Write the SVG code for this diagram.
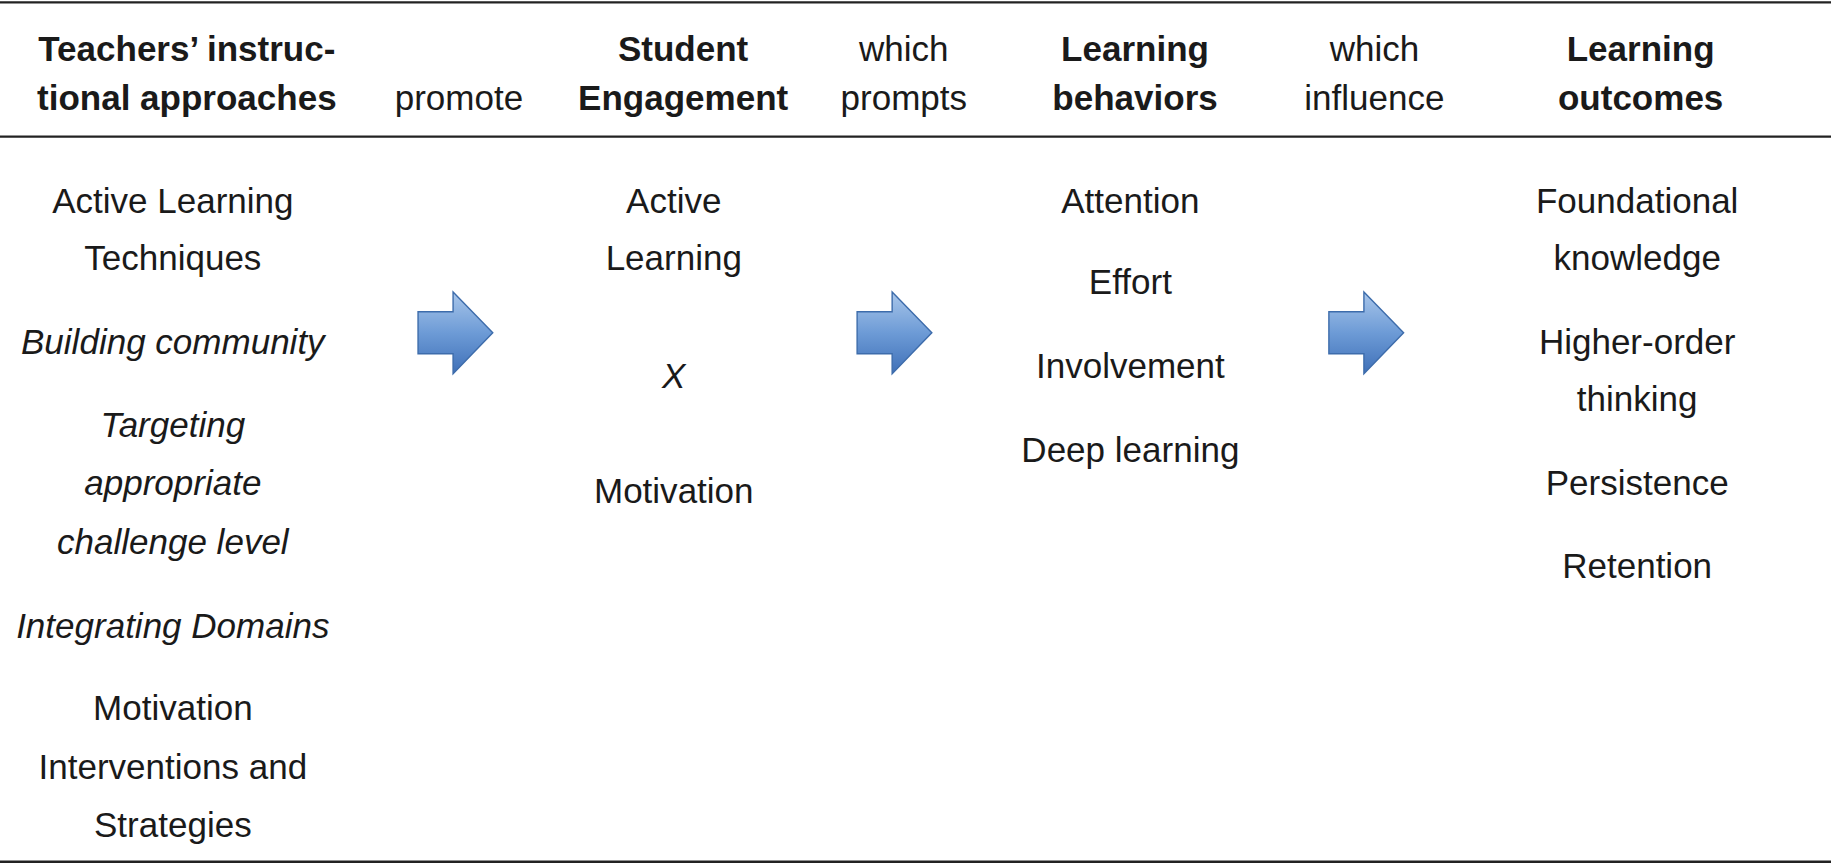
<svg xmlns="http://www.w3.org/2000/svg" width="1831" height="865" viewBox="0 0 1831 865">
<defs>
<linearGradient id="ag" x1="0" y1="0" x2="0" y2="1">
<stop offset="0" stop-color="#a9c6ea"/><stop offset="0.5" stop-color="#6d9bd6"/><stop offset="1" stop-color="#3f70b8"/>
</linearGradient>
<style>
text{font-family:"Liberation Sans",Arial,sans-serif;font-size:30px;fill:#1a1a1a;text-anchor:middle}
.b{font-weight:bold}.i{font-style:italic}
.arr{fill:url(#ag);stroke:#3d6cab;stroke-width:1.2}
line{stroke:#222;stroke-width:2}
</style>
<path id="arrow" class="arr" d="M0,17 H30 V0 L64,35 L30,70 V53 H0 Z"/>
</defs>
<rect width="1831" height="865" fill="#fff"/>
<g transform="scale(1.16773)">
<g id="rules"><line x1="0" y1="2" x2="1568" y2="2"/><line x1="0" y1="117" x2="1568" y2="117"/><line x1="0" y1="738" x2="1568" y2="738"/></g>
<g id="header">
<text class="b" x="160" y="52">Teachers’ instruc-</text><text class="b" x="160" y="94">tional approaches</text>
<text x="393" y="94">promote</text>
<text class="b" x="585" y="52">Student</text><text class="b" x="585" y="94">Engagement</text>
<text x="774" y="52">which</text><text x="774" y="94">prompts</text>
<text class="b" x="972" y="52">Learning</text><text class="b" x="972" y="94">behaviors</text>
<text x="1177" y="52">which</text><text x="1177" y="94">influence</text>
<text class="b" x="1405" y="52">Learning</text><text class="b" x="1405" y="94">outcomes</text>
</g>
<g id="col1">
<text x="148" y="182">Active Learning</text><text x="148" y="231">Techniques</text>
<text class="i" x="148" y="303">Building community</text>
<text class="i" x="148" y="374">Targeting</text><text class="i" x="148" y="424">appropriate</text><text class="i" x="148" y="474">challenge level</text>
<text class="i" x="148" y="546">Integrating Domains</text>
<text x="148" y="617">Motivation</text><text x="148" y="667">Interventions and</text><text x="148" y="717">Strategies</text>
</g>
<g id="col2">
<text x="577" y="182">Active</text><text x="577" y="231">Learning</text>
<text class="i" x="577" y="332">X</text>
<text x="577" y="431">Motivation</text>
</g>
<g id="col3">
<text x="968" y="182">Attention</text><text x="968" y="252">Effort</text><text x="968" y="324">Involvement</text><text x="968" y="396">Deep learning</text>
</g>
<g id="col4">
<text x="1402" y="182">Foundational</text><text x="1402" y="231">knowledge</text>
<text x="1402" y="303">Higher-order</text><text x="1402" y="352">thinking</text>
<text x="1402" y="424">Persistence</text><text x="1402" y="495">Retention</text>
</g>
<g id="connectors">
<use href="#arrow" x="358" y="250"/><use href="#arrow" x="734" y="250"/><use href="#arrow" x="1138" y="250"/>
</g>
</g>
</svg>
